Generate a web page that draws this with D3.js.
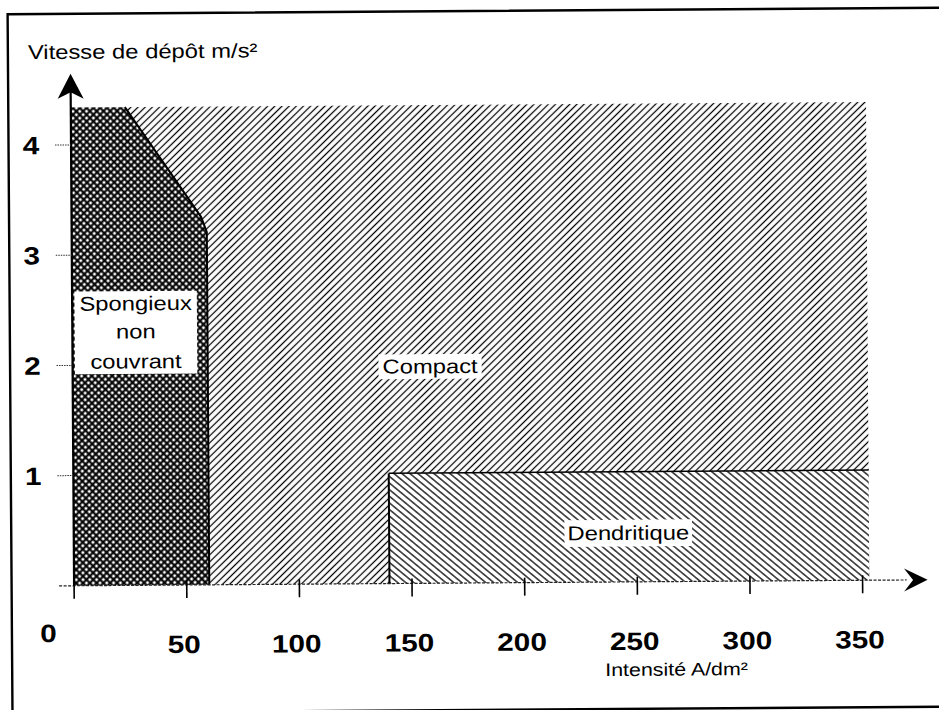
<!DOCTYPE html>
<html>
<head>
<meta charset="utf-8">
<script src="https://cdn.jsdelivr.net/npm/d3@7/dist/d3.min.js"></script>
<style>
  html, body { margin: 0; padding: 0; background: #fff; }
  svg { display: block; }
  text { font-family: "Liberation Sans", Arial, Helvetica, sans-serif; fill: #000; }
</style>
</head>
<body>
<svg id="chart" width="939" height="710"></svg>
<script>
// Deposit regimes: deposition speed against current density
const xTickValues = [0, 50, 100, 150, 200, 250, 300, 350];
const xTickLabels = ["0", "50", "100", "150", "200", "250", "300", "350"];
const yTickValues = [1, 2, 3, 4];
const yTickLabels = ["1", "2", "3", "4"];

const yTitle = "Vitesse de dépôt m/s²";
const xTitle = "Intensité A/dm²";

// Compact domain (background zone)
const compactX = [0, 353];
const compactY = [0, 4.34];

// Spongy, non-covering zone (outline vertices)
const spongieuxX = [0, 24, 57.5, 60, 60, 0];
const spongieuxY = [4.34, 4.34, 3.34, 3.2, 0, 0];

// Dendritic zone
const dendritiqueX = [140, 353];
const dendritiqueY = [0, 1];

const spongieuxLines = ["Spongieux", "non", "couvrant"];
const compactLines = ["Compact"];
const dendritiqueLines = ["Dendritique"];

// ---------------------------------------------------------------
const svg = d3.select("#chart");
svg.append("rect").attr("width", 939).attr("height", 710).attr("fill", "#fff");

const x = d3.scaleLinear().domain([0, 350]).range([72.5, 861]);
const y = d3.scaleLinear().domain([0, 4]).range([583, 142.2]);

const defs = svg.append("defs");

function linePattern(id, period, angle, width) {
  const p = defs.append("pattern")
    .attr("id", id)
    .attr("patternUnits", "userSpaceOnUse")
    .attr("width", period).attr("height", period)
    .attr("patternTransform", `rotate(${angle})`);
  p.append("line")
    .attr("x1", period / 2).attr("x2", period / 2)
    .attr("y1", -1).attr("y2", period + 1)
    .attr("stroke", "#000").attr("stroke-width", width);
}
linePattern("hatchCompact", 5.0, 46, 1.25);
linePattern("hatchDendritique", 5.1, -50, 1.25);

const cross = defs.append("pattern")
  .attr("id", "hatchCross")
  .attr("patternUnits", "userSpaceOnUse")
  .attr("width", 4.8).attr("height", 4.8)
  .attr("patternTransform", "rotate(45)");
cross.append("line").attr("x1", 2.4).attr("x2", 2.4).attr("y1", -1).attr("y2", 5.8)
  .attr("stroke", "#000").attr("stroke-width", 2.1);
cross.append("line").attr("y1", 2.4).attr("y2", 2.4).attr("x1", -1).attr("x2", 5.8)
  .attr("stroke", "#000").attr("stroke-width", 2.1);

// Whole figure sits slightly tilted on the page
const root = svg.append("g").attr("transform", "rotate(-0.4 470 355)");

// Frame
root.append("rect")
  .attr("x", 10).attr("y", 11).attr("width", 960).attr("height", 699)
  .attr("fill", "none").attr("stroke", "#000").attr("stroke-width", 2.4);

// Compact zone
root.append("rect")
  .attr("x", x(compactX[0])).attr("y", y(compactY[1]))
  .attr("width", x(compactX[1]) - x(compactX[0]))
  .attr("height", y(compactY[0]) - y(compactY[1]))
  .attr("fill", "url(#hatchCompact)");

// Dendritic zone
root.append("rect")
  .attr("x", x(dendritiqueX[0])).attr("y", y(dendritiqueY[1]))
  .attr("width", x(dendritiqueX[1]) - x(dendritiqueX[0]))
  .attr("height", y(dendritiqueY[0]) - y(dendritiqueY[1]))
  .attr("fill", "#fff");
root.append("rect")
  .attr("x", x(dendritiqueX[0])).attr("y", y(dendritiqueY[1]))
  .attr("width", x(dendritiqueX[1]) - x(dendritiqueX[0]))
  .attr("height", y(dendritiqueY[0]) - y(dendritiqueY[1]))
  .attr("fill", "url(#hatchDendritique)");
root.append("path")
  .attr("d", d3.line()([
    [x(dendritiqueX[0]), y(dendritiqueY[0])],
    [x(dendritiqueX[0]), y(dendritiqueY[1])]
  ]))
  .attr("fill", "none").attr("stroke", "#000").attr("stroke-width", 2);
root.append("path")
  .attr("d", d3.line()([
    [x(dendritiqueX[0]), y(dendritiqueY[1])],
    [x(dendritiqueX[1]), y(dendritiqueY[1])]
  ]))
  .attr("fill", "none").attr("stroke", "#000").attr("stroke-width", 1.5);

// Spongy zone
const spongPts = spongieuxX.map((v, i) => [x(v), y(spongieuxY[i])]);
root.append("path")
  .attr("d", d3.line()(spongPts) + "Z")
  .attr("fill", "#fff");
root.append("path")
  .attr("d", d3.line()(spongPts) + "Z")
  .attr("fill", "url(#hatchCross)");
root.append("path")
  .attr("d", d3.line().curve(d3.curveLinear)(spongPts.slice(1, 5)))
  .attr("fill", "none").attr("stroke", "#000").attr("stroke-width", 2)
  .attr("stroke-linejoin", "round");

// Axis baseline (dotted) and x arrow
const x0 = x(0), y0 = y(0);
root.append("line")
  .attr("x1", x0 - 15).attr("x2", 905).attr("y1", y0).attr("y2", y0)
  .attr("stroke", "#222").attr("stroke-width", 1.2).attr("stroke-dasharray", "3,1.5");
root.append("path")
  .attr("d", `M926,${y0} L902.5,${y0 - 11.5} L911.5,${y0} L902.5,${y0 + 11.5} Z`)
  .attr("fill", "#000");

// x ticks
root.selectAll(".xtick").data(xTickValues).join("line")
  .attr("class", "xtick")
  .attr("x1", d => x(d)).attr("x2", d => x(d))
  .attr("y1", y0 - 5).attr("y2", y0 + 13)
  .attr("stroke", "#000").attr("stroke-width", 1.6);

// y axis with arrow
root.append("line")
  .attr("x1", x0).attr("x2", x0).attr("y1", y0).attr("y2", 80)
  .attr("stroke", "#000").attr("stroke-width", 2.2);
root.append("path")
  .attr("d", `M${x0},71 L${x0 + 13},96 L${x0},89.5 L${x0 - 13},96 Z`)
  .attr("fill", "#000");

// y ticks (dotted stubs)
root.selectAll(".ytick").data(yTickValues).join("line")
  .attr("class", "ytick")
  .attr("x1", x0 - 16).attr("x2", x0)
  .attr("y1", d => y(d)).attr("y2", d => y(d))
  .attr("stroke", "#333").attr("stroke-width", 1).attr("stroke-dasharray", "1.5,1");

// Text helper: glyphs are drawn a little wider than the font's own proportions
const SX = 1.19;
function label(parent, txt, px, py, size, weight, anchor) {
  return parent.append("text")
    .attr("transform", `translate(${px},${py}) scale(${SX},1)`)
    .attr("text-anchor", anchor || "middle")
    .attr("font-size", size)
    .attr("font-weight", weight || "normal")
    .text(txt);
}

// x tick labels
xTickValues.forEach((v, i) => {
  if (v === 0) {
    label(root, xTickLabels[i], x(v) - 26, y0 + 56, 25, "bold");
  } else {
    label(root, xTickLabels[i], x(v) - 3, y0 + 68, 25, "bold");
  }
});

// y tick labels
yTickValues.forEach((v, i) => {
  label(root, yTickLabels[i], 32.5, y(v) + 9, 25, "bold");
});

// Axis titles
label(root, yTitle, 30, 56, 20, "normal", "start");
label(root, xTitle, 603, 677, 18, "normal", "start");

// Zone labels on white boxes
function zoneLabel(lines, cx, baselines, padX, padY) {
  const g = root.append("g");
  const box = g.append("rect").attr("fill", "#fff");
  const nodes = lines.map((t, i) => label(g, t, cx, baselines[i], 20, "normal"));
  let x1 = Infinity, y1 = Infinity, x2 = -Infinity, y2 = -Infinity;
  nodes.forEach((n, i) => {
    const b = n.node().getBBox();
    x1 = Math.min(x1, cx + b.x * SX);
    x2 = Math.max(x2, cx + (b.x + b.width) * SX);
    y1 = Math.min(y1, baselines[i] + b.y);
    y2 = Math.max(y2, baselines[i] + b.y + b.height);
  });
  box.attr("x", x1 - padX).attr("y", y1 - padY)
     .attr("width", x2 - x1 + 2 * padX).attr("height", y2 - y1 + 2 * padY);
}
zoneLabel(spongieuxLines, 136, [308, 336, 366], 5, 1);
zoneLabel(compactLines, 430, [373], 4, 1);
zoneLabel(dendritiqueLines, 627, [541], 3, 2);
</script>
</body>
</html>
